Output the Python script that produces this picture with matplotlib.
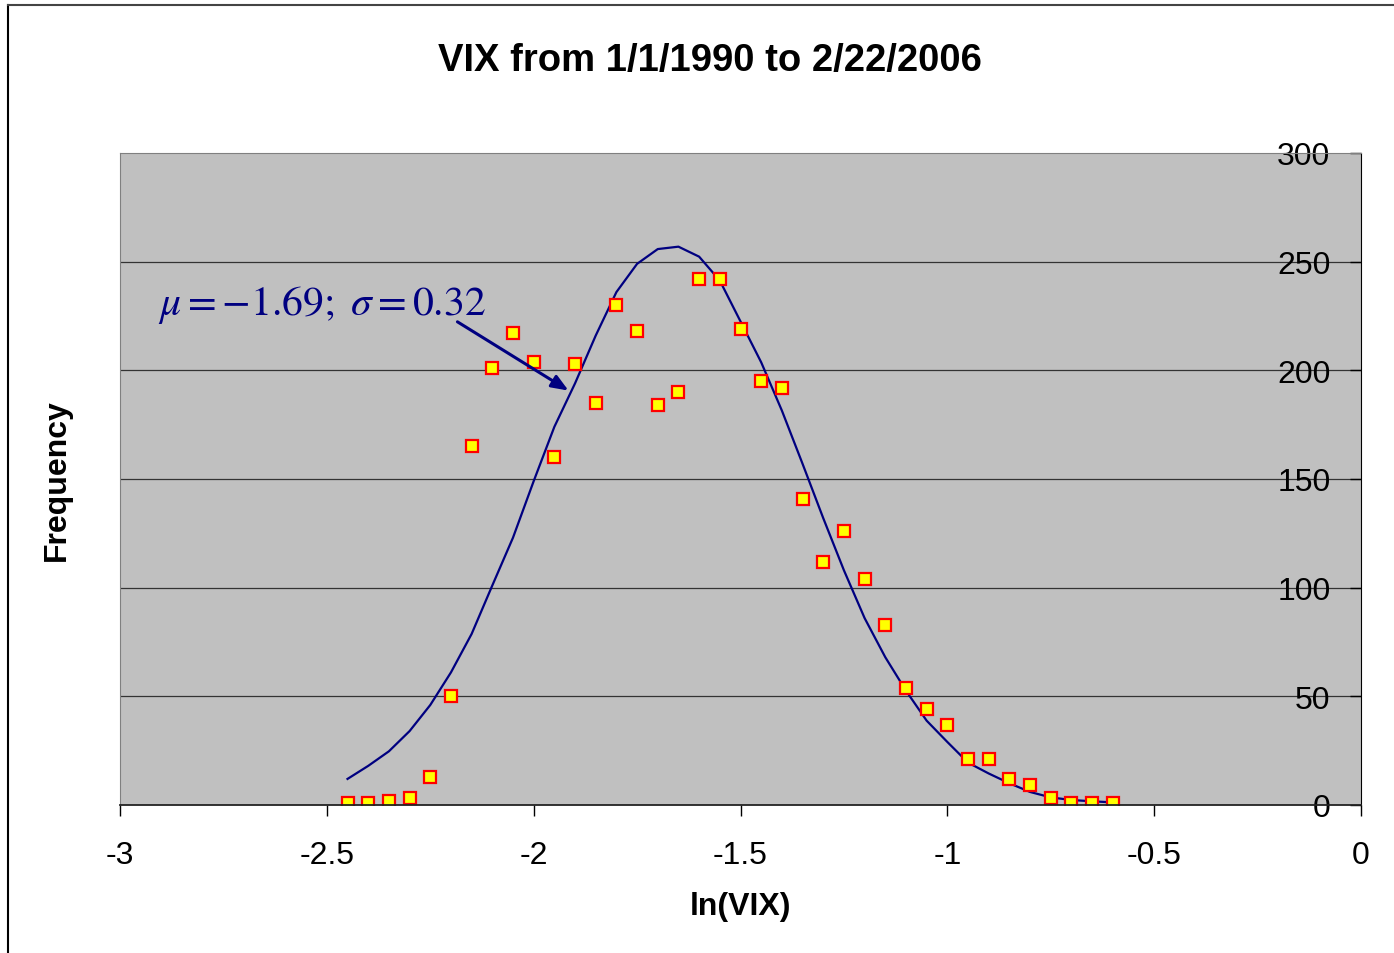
import matplotlib
matplotlib.use("Agg")
from matplotlib import pyplot as plt
from matplotlib.lines import Line2D

plt.rcParams["font.family"] = ["Liberation Sans", "DejaVu Sans"]
plt.rcParams["axes.unicode_minus"] = False
plt.rcParams["mathtext.fontset"] = "stix"

# ln(VIX) bins
bins = [-2.45, -2.40, -2.35, -2.30, -2.25, -2.20, -2.15, -2.10, -2.05, -2.00,
        -1.95, -1.90, -1.85, -1.80, -1.75, -1.70, -1.65, -1.60, -1.55, -1.50,
        -1.45, -1.40, -1.35, -1.30, -1.25, -1.20, -1.15, -1.10, -1.05, -1.00,
        -0.95, -0.90, -0.85, -0.80, -0.75, -0.70, -0.65, -0.60]

# observed frequency
freq = [1, 1, 2, 3, 13, 50, 165, 201, 217, 204,
        160, 203, 185, 230, 218, 184, 190, 242, 242, 219,
        195, 192, 141, 112, 126, 104, 83, 54, 44, 37,
        21, 21, 12, 9, 3, 1, 1, 1]

# fitted normal curve
fit = [12, 18, 24.7, 34, 46, 61, 78.7, 101, 123, 149,
       174, 194, 216, 236, 249, 255.8, 256.9, 252.3, 241.3, 222.5,
       203.7, 181.5, 157, 132, 108, 86, 68, 52.6, 38.8, 29,
       19.5, 14.5, 10, 6, 3.5, 2.3, 1.7, 1.2]

xticks = [-3, -2.5, -2, -1.5, -1, -0.5, 0]
xtick_labels = ["-3", "-2.5", "-2", "-1.5", "-1", "-0.5", "0"]
yticks = [0, 50, 100, 150, 200, 250, 300]

fig = plt.figure(figsize=(13.94, 9.54), dpi=100)
ax = fig.add_axes([120 / 1394, 1 - 806 / 954, (1361 - 120) / 1394, (806 - 154) / 954])
ax.set_facecolor("#c0c0c0")

ax.set_xlim(-3, 0)
ax.set_ylim(0, 300)

for y in yticks[1:-1]:
    ax.axhline(y, color="#333333", lw=0.9, zorder=1)

ax.plot(bins, fit, color="#000080", lw=1.6, zorder=3)
ax.plot(bins, freq, ls="none", marker="s", markersize=9,
        markerfacecolor="#ffff00", markeredgecolor="#ff0000", markeredgewidth=1.6, zorder=4)

# y axis sits at x=0 (right edge), like the Excel original
ax.spines["left"].set_position(("data", 0))
ax.spines["left"].set_color("black")
ax.spines["right"].set_position(("axes", 0))
ax.spines["right"].set_color("#808080")
ax.spines["top"].set_color("#808080")
ax.spines["bottom"].set_color("#222222")
ax.spines["bottom"].set_linewidth(1.3)
for s in ax.spines.values():
    s.set_zorder(5)

ax.set_xticks(xticks)
ax.set_xticklabels(xtick_labels)
ax.set_yticks(yticks)
ax.tick_params(axis="x", direction="out", length=8, width=1, pad=17, labelsize=23)
ax.tick_params(axis="y", direction="out", length=8, width=1, pad=14, labelsize=23)

ax.text(-2.908, 226, r"$\mu = -1.69;\ \sigma = 0.32$", color="#000080",
        fontsize=30, ha="left", va="baseline", zorder=6)
ax.annotate("", xy=(-1.91, 190), xytext=(-2.19, 223),
            arrowprops=dict(arrowstyle="-|>,head_length=1.0,head_width=0.4",
                            color="#000080", lw=2.2), zorder=6)

fig.text(710 / 1394, 1 - 61 / 954, "VIX from 1/1/1990 to 2/22/2006",
         fontsize=27.5, fontweight="bold", ha="center", va="center")
fig.text(740 / 1394, 1 - 907 / 954, "ln(VIX)",
         fontsize=23, fontweight="bold", ha="center", va="center")
fig.text(57 / 1394, 1 - 480 / 954, "Frequency", rotation=90,
         fontsize=23, fontweight="bold", ha="center", va="center")

# outer chart border
fig.add_artist(Line2D([7.5 / 1394, 7.5 / 1394], [0, 1 - 5.5 / 954], color="black", lw=1.5))
fig.add_artist(Line2D([7.5 / 1394, 1], [1 - 5.5 / 954, 1 - 5.5 / 954], color="#444444", lw=1.5))

fig.savefig("out.png", dpi=100)
